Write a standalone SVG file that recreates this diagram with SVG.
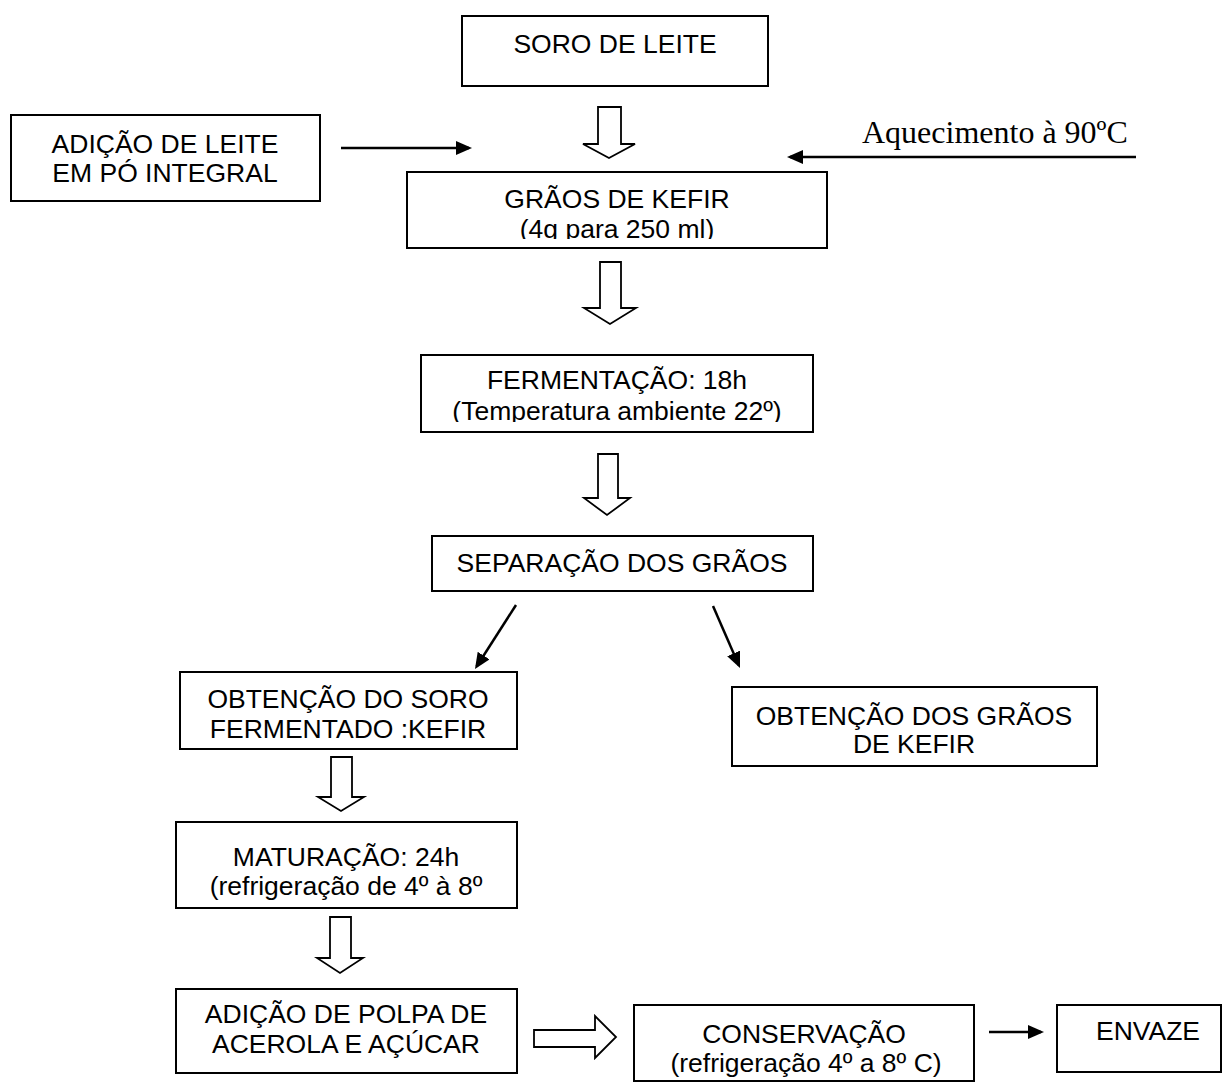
<svg xmlns="http://www.w3.org/2000/svg" width="1228" height="1083" viewBox="0 0 1228 1083">
<style>
.box{fill:#fff;stroke:#000;stroke-width:2}
.t{font-family:"Liberation Sans",Arial,sans-serif;font-size:26.5px;fill:#000;text-anchor:middle}
.s{font-family:"Liberation Serif","Times New Roman",serif;font-size:32px;fill:#000}
.ln{fill:none;stroke:#000;stroke-width:2.5}
.ha{fill:#fff;stroke:#000;stroke-width:1.8;stroke-linejoin:miter}
</style>
<defs>
<marker id="ah" markerUnits="userSpaceOnUse" markerWidth="16" markerHeight="14" refX="13" refY="7" orient="auto">
<path d="M0,0 L16,7 L0,14 z" fill="#000"/>
</marker>
<clipPath id="c1"><rect x="407" y="172" width="420" height="67"/></clipPath>
<clipPath id="c2"><rect x="421" y="355" width="392" height="67"/></clipPath>
</defs>
<rect width="1228" height="1083" fill="#fff"/>

<g id="connectors">
<line class="ln" x1="341" y1="148" x2="469" y2="148" marker-end="url(#ah)"/>
<line class="ln" x1="1136" y1="157" x2="790" y2="157" marker-end="url(#ah)"/>
<line class="ln" x1="516" y1="605" x2="476.6" y2="666.5" marker-end="url(#ah)"/>
<line class="ln" x1="713" y1="606" x2="738.8" y2="665.3" marker-end="url(#ah)"/>
<line class="ln" x1="989" y1="1032" x2="1041" y2="1032" marker-end="url(#ah)"/>
<polygon class="ha" points="598,107 621,107 621,144 635,144 609,158 583,144 598,144"/>
<polygon class="ha" points="600,262 621,262 621,308 636,308 610,324 584,308 600,308"/>
<polygon class="ha" points="598,454 618,454 618,498 630,498 607,515 584,498 598,498"/>
<polygon class="ha" points="331,757 352,757 352,797 364,797 341,811 318,797 331,797"/>
<polygon class="ha" points="330,917 351,917 351,958 363,958 340,973 317,958 330,958"/>
<polygon class="ha" points="534,1030 595,1030 595,1016 616,1037 595,1058 595,1047 534,1047"/>
</g>

<g id="soro">
<rect class="box" x="462" y="16" width="306" height="70"/>
<text class="t" x="615" y="53">SORO DE LEITE</text>
</g>

<g id="adicao-leite">
<rect class="box" x="11" y="115" width="309" height="86"/>
<text class="t" x="165" y="153">ADIÇÃO DE LEITE</text>
<text class="t" x="165" y="182">EM PÓ INTEGRAL</text>
</g>

<g id="aquecimento">
<text class="s" x="862" y="143">Aquecimento à 90ºC</text>
</g>

<g id="graos">
<rect class="box" x="407" y="172" width="420" height="76"/>
<text class="t" x="617" y="208">GRÃOS DE KEFIR</text>
<text class="t" x="617" y="238" clip-path="url(#c1)">(4g para 250 ml)</text>
</g>

<g id="fermentacao">
<rect class="box" x="421" y="355" width="392" height="77"/>
<text class="t" x="617" y="389">FERMENTAÇÃO: 18h</text>
<text class="t" x="617" y="420" clip-path="url(#c2)">(Temperatura ambiente 22º)</text>
</g>

<g id="separacao">
<rect class="box" x="432" y="536" width="381" height="55"/>
<text class="t" x="622" y="572">SEPARAÇÃO DOS GRÃOS</text>
</g>

<g id="obtencao-soro">
<rect class="box" x="180" y="672" width="337" height="77"/>
<text class="t" x="348" y="708">OBTENÇÃO DO SORO</text>
<text class="t" x="348" y="738">FERMENTADO :KEFIR</text>
</g>

<g id="obtencao-graos">
<rect class="box" x="732" y="687" width="365" height="79"/>
<text class="t" x="914" y="725">OBTENÇÃO DOS GRÃOS</text>
<text class="t" x="914" y="753">DE KEFIR</text>
</g>

<g id="maturacao">
<rect class="box" x="176" y="822" width="341" height="86"/>
<text class="t" x="346" y="866">MATURAÇÃO: 24h</text>
<text class="t" x="346" y="895">(refrigeração de 4º à 8º</text>
</g>

<g id="adicao-polpa">
<rect class="box" x="176" y="989" width="341" height="84"/>
<text class="t" x="346" y="1023">ADIÇÃO DE POLPA DE</text>
<text class="t" x="346" y="1053">ACEROLA E AÇÚCAR</text>
</g>

<g id="conservacao">
<rect class="box" x="634" y="1005" width="340" height="76"/>
<text class="t" x="804" y="1043">CONSERVAÇÃO</text>
<text class="t" x="806" y="1072">(refrigeração 4º a 8º C)</text>
</g>

<g id="envaze">
<rect class="box" x="1057" y="1005" width="164" height="67"/>
<text class="t" x="1148" y="1040">ENVAZE</text>
</g>
</svg>
